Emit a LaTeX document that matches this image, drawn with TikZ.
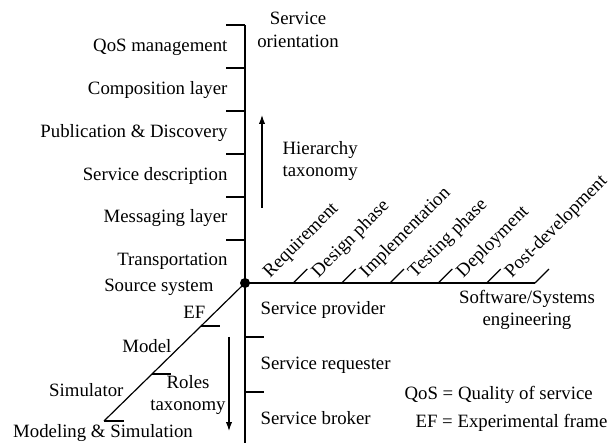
\documentclass[tikz,border=0pt]{standalone}
\usepackage{fontspec}
\setmainfont{Liberation Serif}
\usetikzlibrary{arrows.meta}
\tikzset{
every picture/.style={
line width=0.6pt
}}

\begin{document}
\begin{tikzpicture}[x=0.5pt, y=0.5pt,
lbl/.style = {font=\fontsize{9.4}{11.2}\selectfont, inner sep=1pt},
dirarrow/.style = {-{Latex[length=4.5pt,width=3.2pt]}}]

\useasboundingbox (-245,-160) rectangle (369,283);

\coordinate (o) at (0,0);
\coordinate (sotop) at (0,258);
\coordinate (rolebot) at (0,-160);
\coordinate (swend) at (290,0);
\coordinate (msend) at (-141,-138);

% axes
\draw (sotop) -- (rolebot);
\draw (o) -- (swend);
\draw (o) -- (msend);
\fill (o) circle (2.5pt);

% service orientation (hierarchy)
\foreach \y in {43,86,129,172,215,258}
  \draw (-19,\y) -- (0,\y);
\node [lbl, anchor=east] (qos) at (-15,236) {QoS management};
\node [lbl, anchor=east] (comp) at (-15,193) {Composition layer};
\node [lbl, anchor=east] (pub) at (-15,150) {Publication \& Discovery};
\node [lbl, anchor=east] (desc) at (-15,107) {Service description};
\node [lbl, anchor=east] (msg) at (-15,65) {Messaging layer};
\node [lbl, anchor=east] (trans) at (-15,22) {Transportation};
\node [lbl, align=center] (soname) at (53,253) {Service\\orientation};

\coordinate (hbot) at (17,75);
\coordinate (htop) at (17,168);
\draw [dirarrow] (hbot) -- (htop);
\node [lbl, align=left, anchor=west] (hier) at (35,122) {Hierarchy\\taxonomy};

% software/systems engineering
\foreach \lab [count=\i] in {Requirement, Design phase, Implementation,
  Testing phase, Deployment, Post-development}{
  \draw (\i*48.33,0) -- ++(14,14);
  \node [lbl, rotate=45, anchor=base west] (sw\i) at (\i*48.33-25,3) {\lab};
}
\node [lbl, align=center] (swname) at (282,-27) {Software/Systems\\engineering};

% roles
\draw (0,-54) -- (19,-54);
\draw (0,-109) -- (19,-109);
\node [lbl, anchor=west] (prov) at (13,-27) {Service provider};
\node [lbl, anchor=west] (req) at (13,-82) {Service requester};
\node [lbl, anchor=west] (brk) at (13,-135) {Service broker};

\coordinate (rtop) at (-16,-54);
\coordinate (rbot) at (-16,-148);
\draw [dirarrow] (rtop) -- (rbot);
\node [lbl, align=center] (roles) at (-57,-112) {Roles\\taxonomy};

% modeling & simulation
\draw (-44,-43) -- ++(19,0);
\draw (-93,-91) -- ++(19,0);
\draw (msend) -- ++(20,0);
\node [lbl, anchor=east] (src) at (-29,-4) {Source system};
\node [lbl, anchor=east] (ef) at (-37,-29) {EF};
\node [lbl, anchor=east] (model) at (-71,-63) {Model};
\node [lbl, anchor=east] (sim) at (-119,-107) {Simulator};
\node [lbl] (msname) at (-142,-150) {Modeling \& Simulation};

% legend
\node [lbl, anchor=west] (lgqos) at (157,-112) {QoS = Quality of service};
\node [lbl, anchor=west] (lgef) at (168,-140) {EF = Experimental frame};

\end{tikzpicture}
\end{document}
